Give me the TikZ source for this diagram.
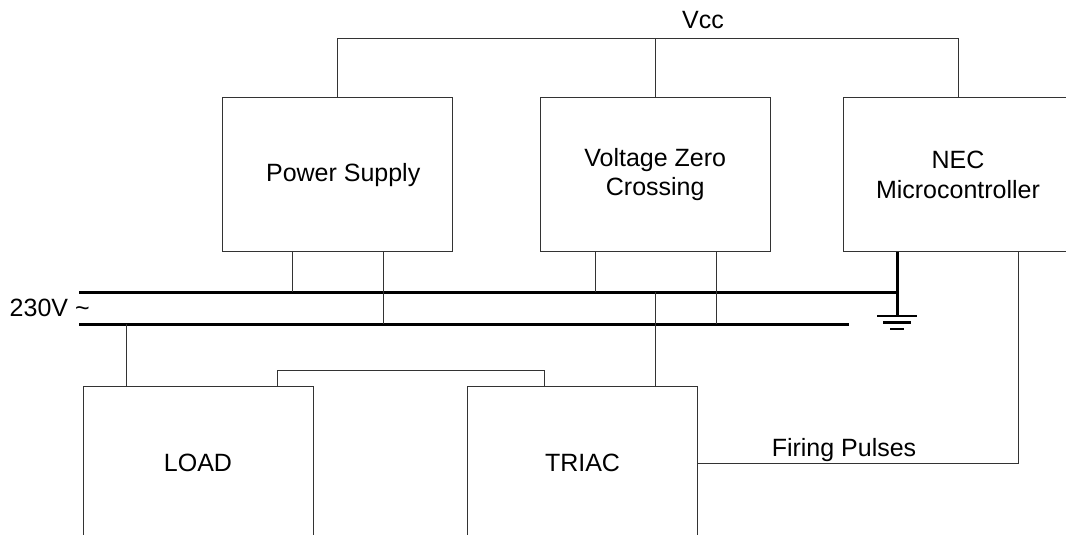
\documentclass[tikz,border=0pt]{standalone}
\usepackage{fontspec}
\setmainfont{Liberation Sans}
\begin{document}
\begin{tikzpicture}[x=1pt,y=-1pt,
  wire/.style={line width=1pt,draw=black!80},
  rail/.style={line width=2.8pt,draw=black},
  blk/.style={draw=black!80,line width=1pt,minimum width=230pt,minimum height=154pt,inner sep=0pt,align=center,font=\fontsize{25}{29.5}\selectfont},
  lbl/.style={inner sep=0pt,font=\fontsize{25}{29.5}\selectfont}]
\clip (0,0) rectangle (1066,535);
% blocks
\node[blk] (ps) at (337.7,174.7) {\hspace*{11pt}Power Supply};
\node[blk] (vzc) at (655.2,174.7) {Voltage Zero\\Crossing};
\node[blk] (nec) at (958,174.7) {NEC\\Microcontroller};
\node[blk] (load) at (198,463) {LOAD};
\node[blk] (triac) at (582.5,463) {TRIAC};
% Vcc bus
\coordinate (vccbus) at (0,39);
\draw[wire] (ps.north) |- (nec.north |- vccbus) -- (nec.north);
\draw[wire] (vzc.north) -- (vzc.north |- vccbus);
\node[lbl,anchor=base] (vcclbl) at (703,28.3) {Vcc};
% mains rails
\coordinate (l1s) at (79.3,292.3); \coordinate (l1e) at (897.3,292.3);
\coordinate (l2s) at (79.3,324.3); \coordinate (l2e) at (849.3,324.3);
\draw[rail] (l1s) -- (l1e);
\draw[rail] (l2s) -- (l2e);
\node[lbl,anchor=base west] (ac) at (9.5,316.7) {230V \textasciitilde};
% power supply leads
\coordinate (p1) at (292,292.3); \coordinate (p2) at (383,324.3);
\draw[wire] (p1 |- ps.south) -- (p1);
\draw[wire] (p2 |- ps.south) -- (p2);
% zero crossing leads
\coordinate (z1) at (595,292.3); \coordinate (z2) at (716,324.3);
\draw[wire] (z1 |- vzc.south) -- (z1);
\draw[wire] (z2 |- vzc.south) -- (z2);
% ground
\coordinate (gnd) at (897.3,316);
\draw[line width=3pt] (gnd |- nec.south) -- (gnd);
\draw[line width=2.4pt] ([xshift=-20pt]gnd) -- ([xshift=20pt]gnd);
\draw[line width=2.4pt] ([xshift=-14pt,yshift=-6.3pt]gnd) -- ([xshift=14pt,yshift=-6.3pt]gnd);
\draw[line width=2.4pt] ([xshift=-7pt,yshift=-12.7pt]gnd) -- ([xshift=7pt,yshift=-12.7pt]gnd);
% load
\coordinate (lo) at (126,324.3);
\draw[wire] (lo) -- (lo |- load.north);
\coordinate (lk) at (277.7,370.3); \coordinate (lk2) at (544,370.3);
\draw[wire] (lk |- load.north) -- (lk) -- (lk2) -- (lk2 |- triac.north);
% triac
\coordinate (t1) at (655.7,292.3);
\draw[wire] (t1) -- (t1 |- triac.north);
% firing pulses
\coordinate (fx) at (1018.5,0);
\draw[wire] (triac.east) -| (fx |- nec.south);
\node[lbl,anchor=base] (fp) at (844,456) {Firing Pulses};
\end{tikzpicture}
\end{document}
